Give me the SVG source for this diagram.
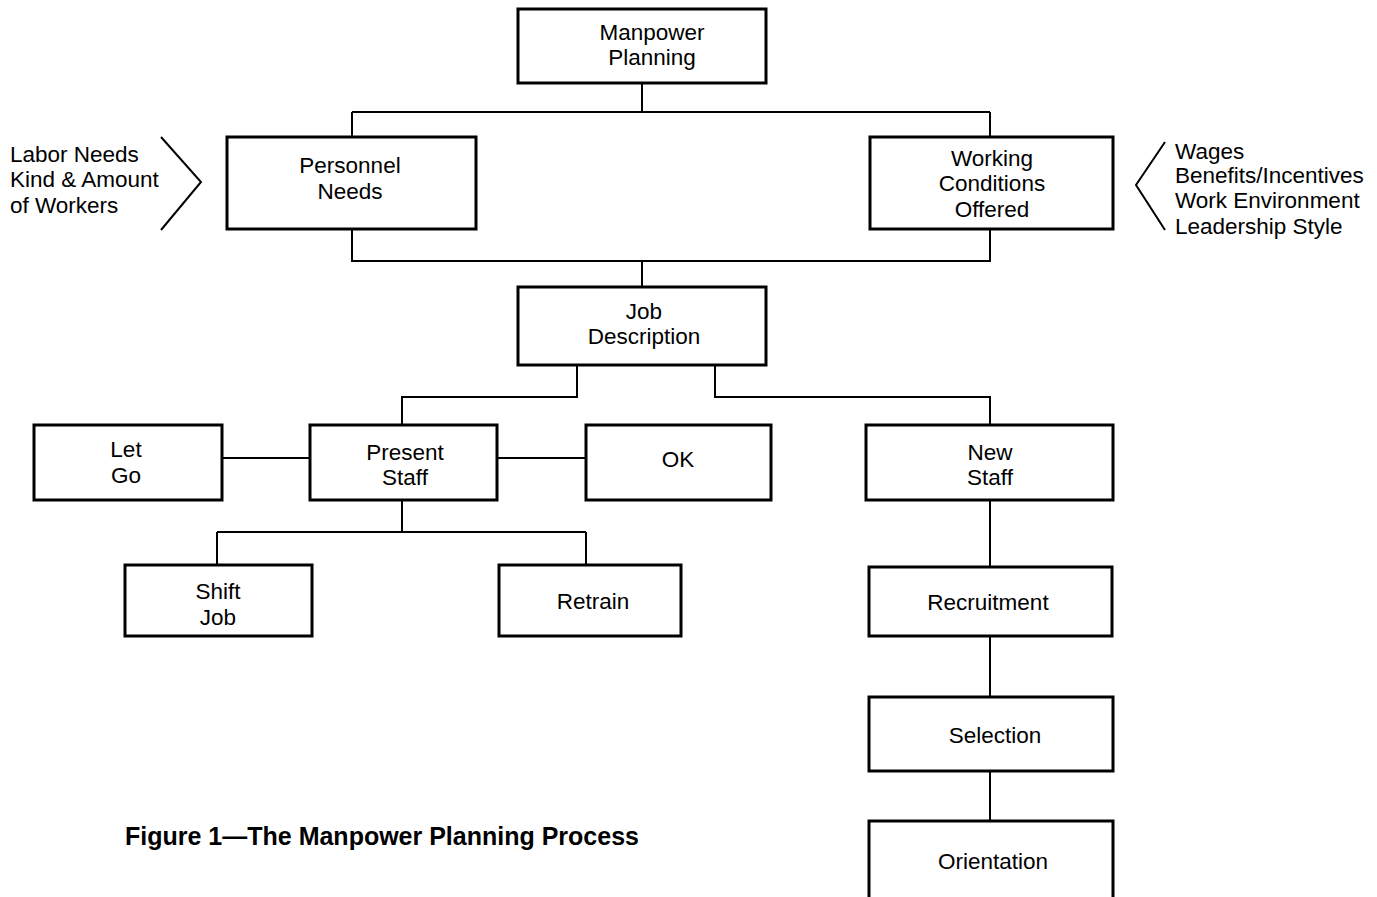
<svg xmlns="http://www.w3.org/2000/svg" width="1377" height="897" viewBox="0 0 1377 897">
<style>
.box{fill:#fff;stroke:#000;stroke-width:3}
.con{fill:none;stroke:#000;stroke-width:2}
text{font-family:"Liberation Sans",Arial,sans-serif;font-size:22.5px;fill:#000}
.c{text-anchor:middle}
.cap{font-weight:bold;font-size:25px}
</style>
<rect width="1377" height="897" fill="#fff"/>
<g id="connectors">
<path class="con" d="M642,83V112M352,112H990M352,112V137M990,112V137"/>
<path class="con" d="M352,229V261H990V229M642,261V287"/>
<path class="con" d="M577,365V397H402V425M715,365V397H990V425"/>
<path class="con" d="M222,458H310M497,458H586"/>
<path class="con" d="M402,500V532M217,532H586M217,532V565M586,532V565"/>
<path class="con" d="M990,500V567M990,636V697M990,771V821"/>
<path class="con" d="M161,137L201,182L161,230"/>
<path class="con" d="M1165,142L1136,185L1165,230"/>
</g>
<g id="manpower-planning"><rect class="box" x="518" y="9" width="248" height="74"/><text class="c" x="652" y="40">Manpower</text><text class="c" x="652" y="65">Planning</text></g>
<g id="personnel-needs"><rect class="box" x="227" y="137" width="249" height="92"/><text class="c" x="350" y="173">Personnel</text><text class="c" x="350" y="199">Needs</text></g>
<g id="working-conditions"><rect class="box" x="870" y="137" width="243" height="92"/><text class="c" x="992" y="166">Working</text><text class="c" x="992" y="191">Conditions</text><text class="c" x="992" y="217">Offered</text></g>
<g id="labor-needs"><text x="10" y="162">Labor Needs</text><text x="10" y="187">Kind &amp; Amount</text><text x="10" y="213">of Workers</text></g>
<g id="wages"><text x="1175" y="159">Wages</text><text x="1175" y="183">Benefits/Incentives</text><text x="1175" y="208">Work Environment</text><text x="1175" y="234">Leadership Style</text></g>
<g id="job-description"><rect class="box" x="518" y="287" width="248" height="78"/><text class="c" x="644" y="319">Job</text><text class="c" x="644" y="344">Description</text></g>
<g id="let-go"><rect class="box" x="34" y="425" width="188" height="75"/><text class="c" x="126" y="457">Let</text><text class="c" x="126" y="483">Go</text></g>
<g id="present-staff"><rect class="box" x="310" y="425" width="187" height="75"/><text class="c" x="405" y="460">Present</text><text class="c" x="405" y="485">Staff</text></g>
<g id="ok"><rect class="box" x="586" y="425" width="185" height="75"/><text class="c" x="678" y="467">OK</text></g>
<g id="new-staff"><rect class="box" x="866" y="425" width="247" height="75"/><text class="c" x="990" y="460">New</text><text class="c" x="990" y="485">Staff</text></g>
<g id="shift-job"><rect class="box" x="125" y="565" width="187" height="71"/><text class="c" x="218" y="599">Shift</text><text class="c" x="218" y="625">Job</text></g>
<g id="retrain"><rect class="box" x="499" y="565" width="182" height="71"/><text class="c" x="593" y="609">Retrain</text></g>
<g id="recruitment"><rect class="box" x="869" y="567" width="243" height="69"/><text class="c" x="988" y="610">Recruitment</text></g>
<g id="selection"><rect class="box" x="869" y="697" width="244" height="74"/><text class="c" x="995" y="743">Selection</text></g>
<g id="orientation"><path class="box" d="M869,900V821H1113V900"/><text class="c" x="993" y="869">Orientation</text></g>
<text class="cap" x="125" y="845">Figure 1—The Manpower Planning Process</text>
</svg>
